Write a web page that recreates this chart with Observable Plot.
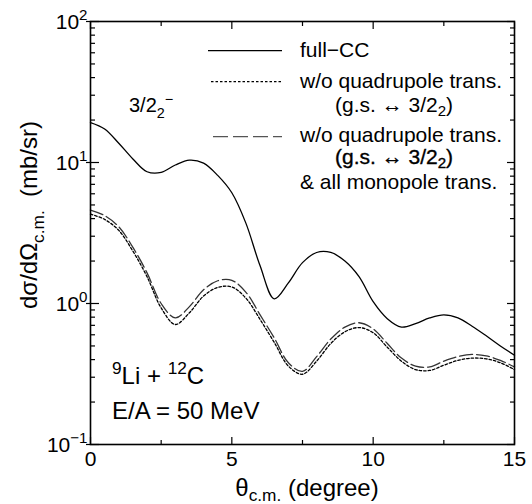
<!DOCTYPE html>
<html><head><meta charset="utf-8">
<script src="https://cdn.jsdelivr.net/npm/d3@7"></script>
<script src="https://cdn.jsdelivr.net/npm/@observablehq/plot@0.6"></script>
<style>
html,body{margin:0;padding:0;background:#fff}
svg{font-family:"Liberation Sans",Arial,Helvetica,sans-serif}
</style>
</head><body><div id="chart"></div>
<script>
// ---- data ----
const theta = [0,0.5,1,1.5,2,2.5,3,3.5,4,4.5,5,5.5,6,6.5,7,7.5,8,8.5,9,9.5,10,10.5,11,11.5,12,12.5,13,13.5,14,14.5,15];
const fullCC = [19.2,17.3,13.7,10.6,8.6,8.5,9.6,10.4,9.9,8.1,6.1,3.7,1.85,1.08,1.4,1.95,2.3,2.3,2.0,1.55,1.03,0.78,0.68,0.72,0.79,0.83,0.79,0.69,0.59,0.5,0.43];
const woQuad = [4.3,3.95,3.3,2.35,1.55,0.93,0.71,0.86,1.13,1.3,1.31,1.09,0.77,0.53,0.36,0.315,0.39,0.52,0.63,0.675,0.62,0.49,0.39,0.34,0.335,0.365,0.395,0.41,0.405,0.38,0.34];
const woQuadMono = [4.6,4.2,3.5,2.5,1.65,1.0,0.79,0.95,1.25,1.45,1.46,1.2,0.83,0.57,0.38,0.33,0.42,0.56,0.68,0.73,0.66,0.52,0.41,0.36,0.355,0.39,0.42,0.435,0.425,0.395,0.355];
const seriesNames = ["full\u2212CC", "w/o quadrupole trans.", "w/o quadrupole trans."];
const xTicksMajor = [0,5,10,15];
const xTickLabels = ["0","5","10","15"];
const xTicksMinor = [2.5,7.5,12.5];
const yTicksMajor = [0.1,1,10,100];
const yTickLabels = ["10^{\u22121}","10^{0}","10^{1}","10^{2}"];
const yTicksMinor = [0.2,0.3,0.4,0.5,0.6,0.7,0.8,0.9,2,3,4,5,6,7,8,9,20,30,40,50,60,70,80,90];

const rows = (vals) => theta.map((t,i)=>({t, v: vals[i]}));

const noText = () => "";
const plot = Plot.plot({
  width: 532, height: 504,
  marginLeft: 90, marginRight: 18, marginTop: 21, marginBottom: 60,
  x: {domain: [0, 15]},
  y: {type: "log", domain: [0.1, 100]},
  style: {fontFamily: '"Liberation Sans",Arial,sans-serif', background: "white", color: "black"},
  marks: [
    // ticks (inward)
    Plot.axisX(xTicksMajor, {anchor: "bottom", tickSize: -7, tickFormat: noText, label: null, strokeWidth: 1.2}),
    Plot.axisX(xTicksMinor, {anchor: "bottom", tickSize: -4, tickFormat: noText, label: null, strokeWidth: 1.2}),
    Plot.axisX(xTicksMajor, {anchor: "top", tickSize: -7, tickFormat: noText, label: null, strokeWidth: 1.2}),
    Plot.axisX(xTicksMinor, {anchor: "top", tickSize: -4, tickFormat: noText, label: null, strokeWidth: 1.2}),
    Plot.axisY(yTicksMajor, {anchor: "left", tickSize: -9, tickFormat: noText, label: null, strokeWidth: 1.2}),
    Plot.axisY(yTicksMajor, {anchor: "left", tickSize: 4, tickFormat: noText, label: null, strokeWidth: 1.2}),
    Plot.axisY(yTicksMinor, {anchor: "left", tickSize: -5, tickFormat: noText, label: null, strokeWidth: 1.2}),
    Plot.axisY(yTicksMajor, {anchor: "right", tickSize: -8, tickFormat: noText, label: null, strokeWidth: 1.2}),
    Plot.axisY(yTicksMinor, {anchor: "right", tickSize: -5, tickFormat: noText, label: null, strokeWidth: 1.2}),
    // tick labels
    Plot.text(xTicksMajor, {x: d => d, text: (d, i) => xTickLabels[i], frameAnchor: "bottom", dy: 21, lineAnchor: "bottom", fontSize: 21}),
    Plot.text(yTicksMajor, {y: d => d, text: (d, i) => yTickLabels[i], frameAnchor: "left", textAnchor: "end", dx: -3, dy: 7.5, lineAnchor: "bottom", fontSize: 21}),
    // curves
    Plot.line(rows(woQuad), {x: "t", y: "v", curve: "catmull-rom", stroke: "black", strokeWidth: 1.3, strokeDasharray: "2.5,2"}),
    Plot.line(rows(woQuadMono), {x: "t", y: "v", curve: "catmull-rom", stroke: "#333", strokeWidth: 1.3, strokeDasharray: "13,4"}),
    Plot.line(rows(fullCC), {x: "t", y: "v", curve: "catmull-rom", stroke: "black", strokeWidth: 1.3}),
    Plot.frame({stroke: "black", strokeWidth: 1.6})
  ]
});

document.getElementById("chart").appendChild(plot);
const svg = d3.select(plot);

function rich(sel, markup, fs, subOff = 0.3) {
  sel.text(null);
  const parts = markup.split(/(_\{[^}]*\}|\^\{[^}]*\})/).filter(s => s.length);
  let cur = 0;
  for (const p of parts) {
    let txt = p, off = 0, size = fs;
    if (p.startsWith("_{")) { txt = p.slice(2, -1); off = subOff * fs; size = 0.72 * fs; }
    else if (p.startsWith("^{")) { txt = p.slice(2, -1); off = -0.42 * fs; size = 0.72 * fs; }
    const ts = sel.append("tspan").attr("font-size", size).text(txt);
    if (off !== cur) ts.attr("dy", off - cur);
    cur = off;
  }
}
// convert markup in Plot-rendered texts
svg.selectAll("text").each(function() {
  const s = this.textContent;
  if (s.includes("^{") || s.includes("_{")) {
    const fs = parseFloat(this.getAttribute("font-size")) || 21;
    rich(d3.select(this), s, fs);
  }
});

function addText(x, y, markup, fs, anchor = "start", extra = {}, subOff = 0.3) {
  const t = svg.append("text").attr("x", x).attr("y", y)
    .attr("font-size", fs).attr("text-anchor", anchor).attr("fill", "black");
  for (const k in extra) t.attr(k, extra[k]);
  rich(t, markup, fs, subOff);
  return t;
}

// axis titles
addText(0, 0, "d\u03c3/d\u03a9_{c.m.}  (mb/sr)", 24, "middle", {transform: "translate(37,215) rotate(-90)"});
addText(307, 496, "\u03b8_{c.m.} (degree)", 24, "middle", {}, 0.22);

// legend
const lg = svg.append("g");
lg.append("line").attr("x1", 208).attr("x2", 282).attr("y1", 50.7).attr("y2", 50.7).attr("stroke", "black").attr("stroke-width", 1.3);
lg.append("line").attr("x1", 211).attr("x2", 282).attr("y1", 81.7).attr("y2", 81.7).attr("stroke", "black").attr("stroke-width", 1.3).attr("stroke-dasharray", "2.5,2");
lg.append("line").attr("x1", 213).attr("x2", 282).attr("y1", 136.7).attr("y2", 136.7).attr("stroke", "#555").attr("stroke-width", 1.3).attr("stroke-dasharray", "15,5");
addText(300, 57, seriesNames[0], 21);
addText(300, 88, seriesNames[1], 21);
addText(335, 112, "(g.s. \u2194 3/2_{2})", 21, "start", {}, 0.2);
addText(300, 142, seriesNames[2], 21);
addText(335, 164, "(g.s. \u2194 3/2_{2})", 21, "start", {stroke: "black", "stroke-width": 0.35}, 0.2);
addText(300, 189, "& all monopole trans.", 21);

// annotations
addText(129, 112, "3/2_{2}^{\u2212}", 20);
addText(112, 384, "^{9}Li + ^{12}C", 24);
addText(112, 419, "E/A = 50 MeV", 24);
</script>
</body></html>
